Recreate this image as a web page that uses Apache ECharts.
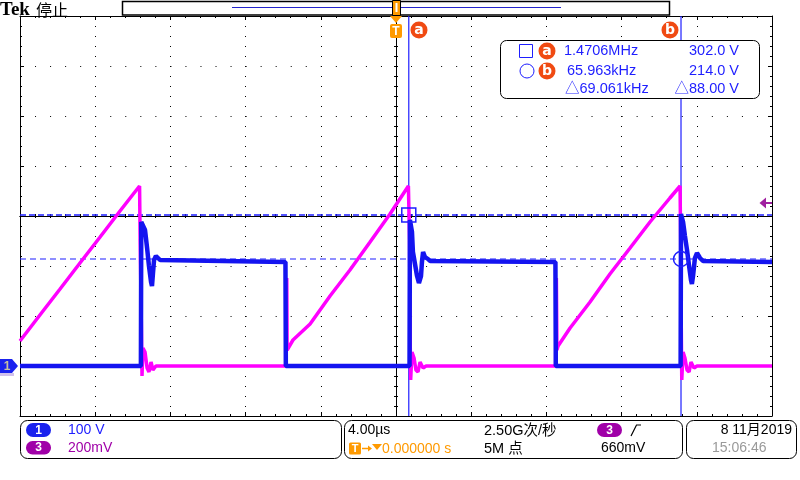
<!DOCTYPE html>
<html><head><meta charset="utf-8">
<script src="https://cdn.jsdelivr.net/npm/echarts@6/dist/echarts.min.js"></script>
<style>html,body{margin:0;padding:0;background:#fff}#c{width:800px;height:480px}</style>
</head><body><div id="c"></div>
<script>
// ---- data (time in µs, Ch1 in V, Ch3 in mV) ----
const timeMin = -20, timeMax = 20, timeDiv = 4;           // 4.00µs/div
const ch1Min = -100, ch1Max = 700, ch1Div = 100;          // 100 V/div
const ch3Min = -200, ch3Max = 1400, ch3Div = 200;         // 200mV/div
const divMin = -4, divMax = 4;

const ch1Time = [-20, -13.57, -13.55, -13.46, -13.35, -13.24, -13.14, -13.03, -12.98, -12.93, -12.87, -12.77, -12.66, -12.55, -5.88, -5.86,
  0.72, 0.74, 0.80, 0.85, 0.90, 1.01, 1.12, 1.22, 1.28, 1.33, 1.38, 1.44, 1.54, 1.70, 1.81, 8.48, 8.50,
  15.14, 15.16, 15.27, 15.37, 15.48, 15.59, 15.69, 15.74, 15.80, 15.90, 16.01, 16.17, 16.33, 20];
const ch1Volts = [0, 0, 288, 292, 272, 236, 200, 168, 160, 184, 212, 220, 216, 212, 208, 0,
  0, 292, 296, 268, 228, 204, 180, 166, 164, 180, 208, 228, 218, 214, 210, 208, 0,
  0, 304, 288, 260, 232, 200, 172, 164, 180, 216, 226, 216, 210, 208];

const ch3Time = [-20, -18.94, -17.87, -16.81, -15.74, -14.68, -13.64, -13.61, -13.54, -13.51, -13.46, -13.35, -13.24, -13.14, -13.03, -12.93, -12.77,
  -5.84, -5.81, -5.79, -5.74, -5.48, -4.57, -3.51, -2.45, -1.38, -0.32, 0.66, 0.72, 0.755, 0.78, 0.85, 0.96, 1.06, 1.17, 1.28, 1.44, 1.60,
  8.49, 8.53, 8.56, 8.62, 9.26, 10.32, 11.38, 12.45, 13.51, 14.57, 15.11, 15.14, 15.18, 15.20, 15.27, 15.37, 15.48, 15.59, 15.69, 15.85, 16.01, 20];
const ch3mV = [100, 204, 308, 412, 516, 620, 720, 504, 144, -40, 72, 56, -8, -24, 16, -16, 0,
  0, 352, 64, 72, 104, 168, 280, 384, 496, 608, 720, 504, 104, -56, 56, 32, -16, -24, 16, -8, 0,
  0, 352, 64, 80, 152, 256, 368, 472, 576, 672, 720, 504, 104, -56, 56, 32, -16, -24, 16, -8, 0, 0];

const cursorTimes = [0.68, 15.16];   // µs (cursor a, b)
const cursorVolts = [302, 214];      // V
const readoutFreq = ['1.4706MHz', '65.963kHz', '\u25B369.061kHz'];
const readoutVolt = ['302.0 V', '214.0 V', '\u25B388.00 V'];

// ---- styles ----
const BLUE = '#1414f0', CUR = '#1e1eff', MAG = '#ff00ff', PURPLE = '#a000a8', ORANGE = '#ff9a00', RED = '#f04a12';
const FONT = '"Liberation Sans", "Noto Sans CJK SC", sans-serif';

function txt(x, y, s, color, size, o) {
  o = o || {};
  const al = o.align || 'left';
  return { type: 'text', x: x, y: y, z: 100, silent: true,
    style: { text: s, fill: color, font: (o.weight || 'normal') + ' ' + size + 'px ' + (o.family || FONT),
      align: al, textAlign: al, verticalAlign: 'middle', textVerticalAlign: 'middle' } };
}
function rect(x, y, w, h, r, fill, stroke, lw) {
  return { type: 'rect', z: 100, silent: true, shape: { x: x, y: y, width: w, height: h, r: r },
    style: { fill: fill, stroke: stroke || null, lineWidth: lw || 1 } };
}
function circ(cx, cy, r, fill, stroke) {
  return { type: 'circle', z: 100, silent: true, shape: { cx: cx, cy: cy, r: r }, style: { fill: fill, stroke: stroke || null, lineWidth: 1 } };
}
function poly(pts, fill) {
  return { type: 'polygon', z: 100, silent: true, shape: { points: pts }, style: { fill: fill } };
}
function pline(pts, stroke, lw) {
  return { type: 'polyline', z: 100, silent: true, shape: { points: pts }, style: { stroke: stroke, lineWidth: lw || 1, fill: null } };
}
function badge(cx, cy, letter) {
  return [circ(cx, cy, 8.5, RED), txt(cx, cy + 0.5, letter, '#fff', 14, { align: 'center', weight: 'bold', family: '"DejaVu Sans", sans-serif' })];
}

const elements = [].concat(
  // top bar
  [txt(0, 10, 'Tek', '#000', 19, { weight: 'bold', family: '"Liberation Serif", serif' }),
   txt(36, 10, '停止', '#000', 16, { family: '"Noto Sans CJK SC", sans-serif' }),
   rect(122.5, 1.5, 547, 13.5, 0, '#fff', '#000', 1.5),
   pline([[232, 7.5], [561, 7.5]], '#2222cc', 1.2),
   rect(392.5, 0.5, 8, 15, 0, ORANGE, '#000', 1),
   rect(395.5, 3, 2, 9, 0, '#fff'),
   poly([[390, 16], [402, 16], [396, 23]], ORANGE),
   rect(390, 24, 12, 14, 2, ORANGE),
   txt(396, 31.5, 'T', '#fff', 12, { align: 'center', weight: 'bold' })],
  badge(419, 30, 'a'), badge(670, 30, 'b'),
  // readout box
  [rect(500.5, 40.5, 259, 58, 6, '#fff', '#000', 1),
   rect(519.5, 44.5, 13, 13, 0, null, CUR, 1),
   circ(527, 71, 7, null, CUR)],
  badge(547, 51, 'a'), badge(547, 71, 'b'),
  [txt(564, 51, readoutFreq[0], CUR, 14.5), txt(739, 51, readoutVolt[0], CUR, 14.5, { align: 'right' }),
   txt(567, 71, readoutFreq[1], CUR, 14.5), txt(739, 71, readoutVolt[1], CUR, 14.5, { align: 'right' }),
   txt(565, 89, readoutFreq[2], CUR, 14.5), txt(739, 89, readoutVolt[2], CUR, 14.5, { align: 'right' })],
  // ground marker ch1
  [poly([[0, 373], [14, 373], [14, 376], [0, 376]], '#d0c0ec'),
   poly([[0, 359], [12, 359], [18, 366], [12, 373], [0, 373]], '#1a22ee'),
   txt(7, 366.5, '1', '#c8c0a0', 12, { align: 'center', weight: 'bold' })],
  // trigger level arrow (ch3)
  [poly([[759.5, 203], [766, 197.5], [766, 208.5]], '#a020a0'), pline([[766, 203], [772, 203]], '#a020a0', 2)],
  // bottom status bar
  [rect(20.5, 420.5, 321, 38, 7, '#fff', '#000', 1),
   rect(26, 423, 25, 14, 7, '#1a22ee'), txt(38.5, 430.5, '1', '#fff', 12, { align: 'center', weight: 'bold' }),
   txt(68, 430.5, '100 V', '#2020ff', 14),
   rect(26, 441, 25, 13.5, 6.5, PURPLE), txt(38.5, 448, '3', '#fff', 12, { align: 'center', weight: 'bold' }),
   txt(68, 448.5, '200mV', PURPLE, 14),
   rect(344.5, 420.5, 338, 38, 7, '#fff', '#000', 1),
   txt(348, 430.5, '4.00µs', '#000', 14),
   rect(349, 442.5, 12, 12, 1.5, ORANGE), txt(355, 449, 'T', '#fff', 11, { align: 'center', weight: 'bold' }),
   pline([[362, 448.5], [370, 448.5]], ORANGE, 1.5), poly([[368, 445.5], [372, 448.5], [368, 451.5]], ORANGE),
   poly([[372, 444], [382, 444], [377, 450]], ORANGE),
   txt(382, 449, '0.000000 s', ORANGE, 14),
   txt(484, 430.5, '2.50G次/秒', '#000', 14.5),
   txt(484, 448.5, '5M 点', '#000', 14.5),
   rect(597, 423, 25, 14, 7, PURPLE), txt(609.5, 430.5, '3', '#fff', 12, { align: 'center', weight: 'bold' }),
   pline([[631, 436], [636.5, 425], [641, 425]], '#000', 1.2),
   txt(601, 448.5, '660mV', '#000', 14),
   rect(686.5, 420.5, 110, 38, 7, '#fff', '#000', 1),
   txt(792, 430.5, '8 11月2019', '#000', 14, { align: 'right' }),
   txt(712, 448.5, '15:06:46', '#9a9a9a', 14)]
);

const borderLine = { color: '#000', width: 1 };
function borderX(pos, split) {
  return { type: 'value', min: timeMin, max: timeMax, interval: timeDiv, position: pos,
    axisLine: { show: true, onZero: false, lineStyle: borderLine },
    axisTick: { show: true, inside: true, length: 4, lineStyle: { color: '#000' } },
    minorTick: { show: true, splitNumber: 5, length: 2, lineStyle: { color: '#000' } },
    axisLabel: { show: false },
    splitLine: { show: split, lineStyle: { color: '#000', width: 1, type: [1, 9] } } };
}
function borderY(pos, split) {
  return { type: 'value', min: ch1Min, max: ch1Max, interval: ch1Div, position: pos,
    axisLine: { show: true, onZero: false, lineStyle: borderLine },
    axisTick: { show: true, inside: true, length: 4, lineStyle: { color: '#000' } },
    minorTick: { show: true, splitNumber: 5, length: 2, lineStyle: { color: '#000' } },
    axisLabel: { show: false },
    splitLine: { show: split, lineStyle: { color: '#000', width: 1, type: [1, 14.04] } } };
}
function centerX(inside) {
  return { type: 'value', min: timeMin, max: timeMax, interval: timeDiv, position: 'bottom',
    axisLine: { show: true, onZero: true, onZeroAxisIndex: 3, lineStyle: borderLine },
    axisTick: { show: true, inside: inside, length: 2, lineStyle: { color: '#000' } },
    minorTick: { show: true, splitNumber: 5, length: 2, lineStyle: { color: '#000' } },
    axisLabel: { show: false }, splitLine: { show: false } };
}
function centerY(inside) {
  return { type: 'value', min: divMin, max: divMax, interval: 1, position: 'left',
    axisLine: { show: true, onZero: true, onZeroAxisIndex: 0, lineStyle: borderLine },
    axisTick: { show: true, inside: inside, length: 2, lineStyle: { color: '#000' } },
    minorTick: { show: true, splitNumber: 5, length: 2, lineStyle: { color: '#000' } },
    axisLabel: { show: false }, splitLine: { show: false } };
}

function cursorSeries(data, dash, w) {
  return { type: 'line', xAxisIndex: 0, yAxisIndex: 0, z: 1, symbol: 'none', silent: true,
    data: data, lineStyle: { color: CUR, width: w, type: dash } };
}

const chart = echarts.init(document.getElementById('c'), null, { renderer: 'canvas' });
chart.setOption({
  animation: false,
  backgroundColor: '#fff',
  grid: { left: 20, top: 16, width: 752, height: 400, show: true, backgroundColor: '#fff', borderWidth: 0 },
  xAxis: [borderX('bottom', true), borderX('top', false), centerX(true), centerX(false)],
  yAxis: [
    borderY('left', true), borderY('right', false),
    { type: 'value', min: ch3Min, max: ch3Max, interval: ch3Div, show: false, axisLine: { onZero: false } },
    { type: 'value', min: divMin, max: divMax, interval: 1, show: false, axisLine: { onZero: false } },
    centerY(true), centerY(false)
  ],
  series: [
    cursorSeries([[cursorTimes[0], ch1Min], [cursorTimes[0], ch1Max]], 'solid', 1.2),
    cursorSeries([[cursorTimes[1], ch1Min], [cursorTimes[1], ch1Max]], 'solid', 1.2),
    cursorSeries([[timeMin, cursorVolts[0]], [timeMax, cursorVolts[0]]], [6, 3], 1.5),
    cursorSeries([[timeMin, cursorVolts[1]], [timeMax, cursorVolts[1]]], [6, 4], 1.2),
    { name: 'cursorMarks', type: 'scatter', xAxisIndex: 0, yAxisIndex: 0, z: 5, silent: true,
      data: [
        { value: [cursorTimes[0], cursorVolts[0]], symbol: 'rect', symbolSize: 14 },
        { value: [cursorTimes[1], cursorVolts[1]], symbol: 'circle', symbolSize: 15 }
      ],
      itemStyle: { color: 'rgba(255,255,255,0)', borderColor: CUR, borderWidth: 1.5, opacity: 1 } },
    { name: 'Ch3', type: 'line', xAxisIndex: 0, yAxisIndex: 2, z: 3, symbol: 'none',
      data: ch3Time.map((t, i) => [t, ch3mV[i]]),
      lineStyle: { color: MAG, width: 3.5 } },
    { name: 'Ch1', type: 'line', xAxisIndex: 0, yAxisIndex: 0, z: 4, symbol: 'none',
      data: ch1Time.map((t, i) => [t, ch1Volts[i]]),
      lineStyle: { color: BLUE, width: 4.5 } }
  ],
  graphic: { elements: elements }
});
</script></body></html>
